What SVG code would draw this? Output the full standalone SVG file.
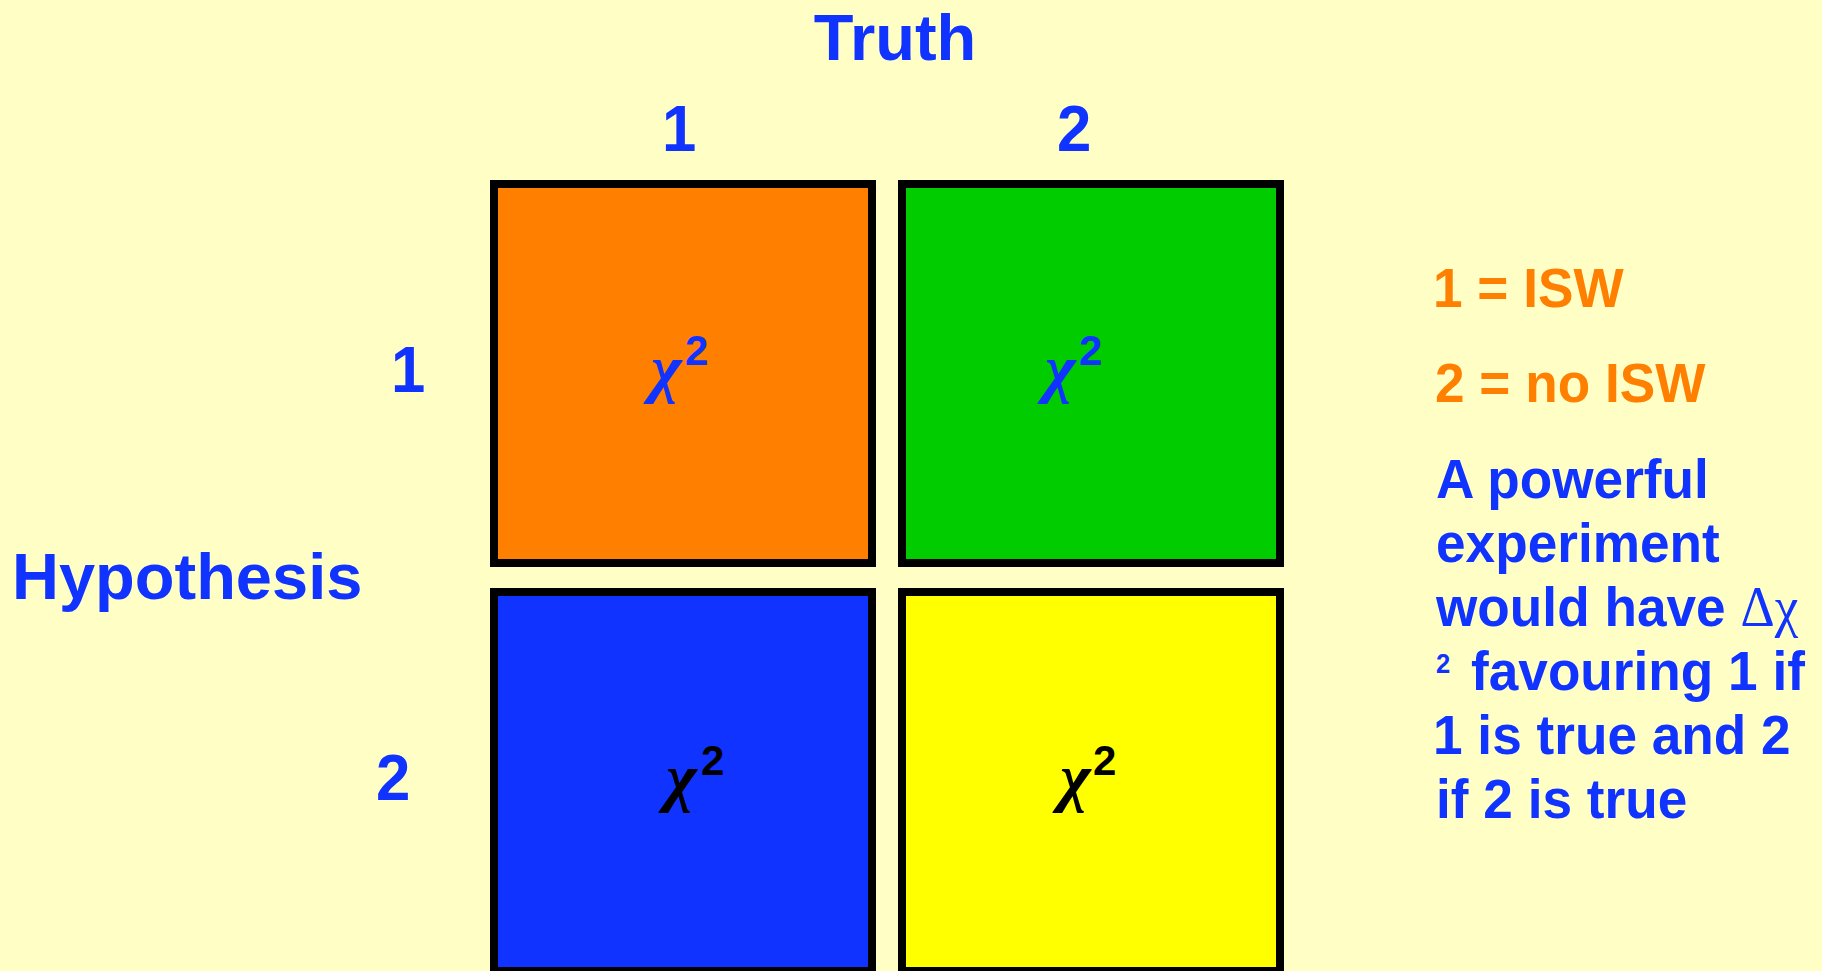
<svg xmlns="http://www.w3.org/2000/svg" width="1822" height="971" viewBox="0 0 1822 971">
<style>
.lbl{font-family:"Liberation Sans",Arial,sans-serif;font-weight:bold;fill:#1033FF;font-size:65px}
.org{font-family:"Liberation Sans",Arial,sans-serif;font-weight:bold;fill:#FF7F00;font-size:56px}
.side{font-family:"Liberation Sans",Arial,sans-serif;font-weight:bold;fill:#1033FF;font-size:56px}
.small{font-size:27px}
.cell{stroke:#000;stroke-width:8}
.chi{font-family:"Liberation Serif","DejaVu Serif",serif;font-style:italic;font-weight:bold;font-size:66px}
.sup{font-family:"Liberation Sans",Arial,sans-serif;font-weight:bold;font-size:42px}
.sym{font-family:"Liberation Serif","DejaVu Serif",serif;font-weight:normal}
</style>
<rect x="0" y="0" width="1822" height="971" fill="#FFFFC5"/>
<g id="labels">
<text class="lbl" x="895" y="60" text-anchor="middle">Truth</text>
<text class="lbl" transform="translate(662,151) scale(0.95,1)">1</text>
<text class="lbl" transform="translate(1057,151) scale(0.95,1)">2</text>
<text class="lbl" x="12" y="599">Hypothesis</text>
<text class="lbl" transform="translate(391,392) scale(0.95,1)">1</text>
<text class="lbl" transform="translate(376,800) scale(0.95,1)">2</text>
</g>
<g id="cell-11">
<rect class="cell" x="494" y="184" width="378" height="379" fill="#FF7F00"/>
<text x="651" y="390" fill="#1033FF"><tspan class="chi">χ</tspan><tspan class="sup" x="685" y="365">2</tspan></text>
</g>
<g id="cell-12">
<rect class="cell" x="902" y="184" width="378" height="379" fill="#00CC00"/>
<text x="1045" y="390" fill="#1033FF"><tspan class="chi">χ</tspan><tspan class="sup" x="1079" y="365">2</tspan></text>
</g>
<g id="cell-21">
<rect class="cell" x="494" y="592" width="378" height="379" fill="#1033FF"/>
<text x="666" y="799" fill="#000"><tspan class="chi">χ</tspan><tspan class="sup" x="701" y="775">2</tspan></text>
</g>
<g id="cell-22">
<rect class="cell" x="902" y="592" width="378" height="379" fill="#FFFF00"/>
<text x="1060" y="799" fill="#000"><tspan class="chi">χ</tspan><tspan class="sup" x="1093" y="775">2</tspan></text>
</g>
<g id="legend">
<text class="org" transform="translate(1433,307) scale(0.95,1)">1 = ISW</text>
<text class="org" transform="translate(1435,402) scale(0.95,1)">2 = no ISW</text>
<text class="side" transform="translate(1436,498) scale(0.95,1)">A powerful</text>
<text class="side" transform="translate(1436,562) scale(0.95,1)">experiment</text>
<text class="side" transform="translate(1436,626) scale(0.95,1)">would have <tspan class="sym">Δχ</tspan></text>
<text class="side small" transform="translate(1436,673) scale(0.95,1)">2</text>
<text class="side" transform="translate(1471,690) scale(0.95,1)">favouring 1 if</text>
<text class="side" transform="translate(1433,754) scale(0.95,1)">1 is true and 2</text>
<text class="side" transform="translate(1436,818) scale(0.95,1)">if 2 is true</text>
</g>
<g id="connectors"/>
</svg>
